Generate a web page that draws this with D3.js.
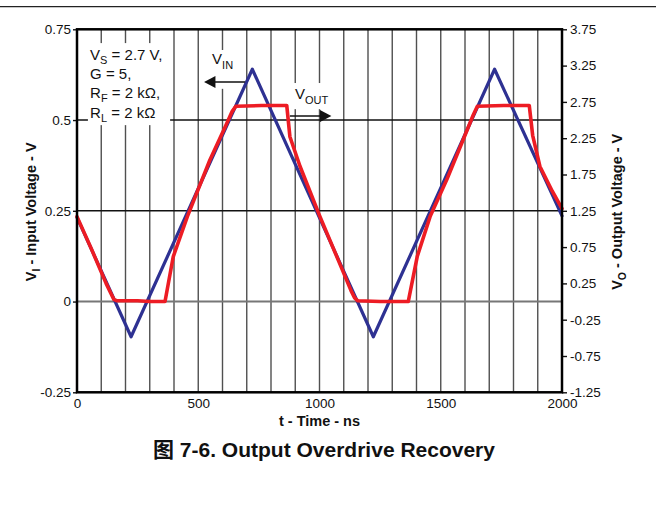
<!DOCTYPE html>
<html><head><meta charset="utf-8">
<script src="https://cdn.jsdelivr.net/npm/d3@7"></script>
<style>
html,body{margin:0;padding:0;background:#fff;}
svg{display:block;font-family:"Liberation Sans",Arial,"Noto Sans CJK SC",sans-serif;}
</style></head>
<body><svg id="c" width="656" height="506"></svg>
<script>
// ---- data ----
const timeTicks = [0, 500, 1000, 1500, 2000];
const gridTimes = [100,200,300,400,500,600,700,800,900,1000,1100,1200,1300,1400,1500,1600,1700,1800,1900];
const leftTicks = [0.75, 0.5, 0.25, 0, -0.25];
const leftTickLabels = ["0.75", "0.5", "0.25", "0", "-0.25"];
const gridLevels = [0.5, 0.25, 0];
const rightTicks = [3.75, 3.25, 2.75, 2.25, 1.75, 1.25, 0.75, 0.25, -0.25, -0.75, -1.25];
const rightTickLabels = ["3.75","3.25","2.75","2.25","1.75","1.25","0.75","0.25","-0.25","-0.75","-1.25"];

// V_IN (input volts, left axis)
const vinTime = [0, 223, 723, 1222, 1722, 2000];
const vinVolt = [0.232, -0.097, 0.640, -0.097, 0.640, 0.236];

// V_OUT (output volts, right axis)
const voutTime = [0, 60, 120, 140, 152, 165, 250, 300, 363, 397, 455, 548, 617, 640, 655, 760, 865, 878, 920, 1002, 1080, 1130, 1145, 1158, 1250, 1366, 1403, 1456, 1525, 1600, 1634, 1651, 1760, 1865, 1879, 1909, 1960, 2000];
const voutVolt = [1.17, 0.72, 0.25, 0.11, 0.03, 0.01, 0.01, 0.0, 0.0, 0.62, 1.17, 1.95, 2.45, 2.62, 2.69, 2.70, 2.70, 2.27, 1.86, 1.17, 0.55, 0.15, 0.05, 0.01, 0.0, 0.0, 0.62, 1.17, 1.68, 2.29, 2.57, 2.69, 2.70, 2.70, 2.29, 1.86, 1.52, 1.28];

// ---- layout ----
const svg = d3.select("#c");
const L = 77, R = 562, T = 29.3, B = 392.3;
const x = d3.scaleLinear().domain([0, 2000]).range([L, R]);
const yL = d3.scaleLinear().domain([-0.25, 0.75]).range([B, T]);
const yR = d3.scaleLinear().domain([-1.25, 3.75]).range([B, T]);

// top rule
svg.append("line").attr("x1",0).attr("x2",656).attr("y1",6.7).attr("y2",6.7)
  .attr("stroke","#222").attr("stroke-width",1.2);

// grid
const g = svg.append("g");
g.selectAll("line.v").data(gridTimes).join("line")
  .attr("x1",d=>x(d)).attr("x2",d=>x(d)).attr("y1",T).attr("y2",B)
  .attr("stroke","#505050").attr("stroke-width",1.4);
g.selectAll("line.h").data(gridLevels).join("line")
  .attr("x1",L).attr("x2",R).attr("y1",d=>yL(d)).attr("y2",d=>yL(d))
  .attr("stroke",d=>d===0?"#777":"#111").attr("stroke-width",d=>d===0?2:1.4);

// left axis
const axL = d3.axisLeft(yL).tickValues(leftTicks).tickSize(4).tickPadding(2)
  .tickFormat((d,i)=>leftTickLabels[i]);
const gl = svg.append("g").attr("transform",`translate(${L},0)`).call(axL);
// right axis
const axR = d3.axisRight(yR).tickValues(rightTicks).tickSize(5).tickPadding(3)
  .tickFormat((d,i)=>rightTickLabels[i]);
const gr = svg.append("g").attr("transform",`translate(${R},0)`).call(axR);
// bottom axis
const axB = d3.axisBottom(x).tickValues(timeTicks).tickSize(0).tickPadding(6).tickFormat(d3.format("d"));
const gb = svg.append("g").attr("transform",`translate(0,${B})`).call(axB);
[gl,gr,gb].forEach(a=>{
  a.select(".domain").remove();
  a.selectAll("text").attr("font-size","13.5px").attr("fill","#111")
    .attr("font-family",'"Liberation Sans",Arial,sans-serif');
  a.selectAll("line").attr("stroke","#111").attr("stroke-width",1.4);
});

// annotation boxes (white, hide grid)
const ann = svg.append("g");
ann.append("rect").attr("x",x(45)).attr("y",yL(0.712)).attr("width",x(384)-x(45)).attr("height",yL(0.486)-yL(0.712)).attr("fill","#fff");
ann.append("rect").attr("x",x(534)).attr("y",yL(0.693)).attr("width",x(670)-x(534)).attr("height",yL(0.586)-yL(0.693)).attr("fill","#fff");
ann.append("rect").attr("x",x(880)).attr("y",yL(0.602)).attr("width",x(1060)-x(880)).attr("height",yL(0.530)-yL(0.602)).attr("fill","#fff");

// curves
const lineIn = d3.line().x((d,i)=>x(vinTime[i])).y((d,i)=>yL(vinVolt[i]));
const lineOut = d3.line().x((d,i)=>x(voutTime[i])).y((d,i)=>yR(voutVolt[i]));
svg.append("path").attr("d",lineIn(vinTime)).attr("fill","none")
  .attr("stroke","#2e3192").attr("stroke-width",3.2).attr("stroke-linejoin","round").attr("stroke-linecap","round");
svg.append("path").attr("d",lineOut(voutTime)).attr("fill","none")
  .attr("stroke","#ed1c24").attr("stroke-width",3.6).attr("stroke-linejoin","round").attr("stroke-linecap","round");

// frame
svg.append("rect").attr("x",L).attr("y",T).attr("width",R-L).attr("height",B-T)
  .attr("fill","none").attr("stroke","#000").attr("stroke-width",2.5);

// condition text
const cond = [
  {main:"V", sub:"S", rest:" = 2.7 V,", v:0.665},
  {main:"G = 5,", sub:"", rest:"", v:0.613},
  {main:"R", sub:"F", rest:" = 2 kΩ,", v:0.561},
  {main:"R", sub:"L", rest:" = 2 kΩ", v:0.506}
];
cond.forEach(c=>{
  const t = svg.append("text").attr("x",x(54)).attr("y",yL(c.v)).attr("font-size","15px").attr("fill","#111");
  t.append("tspan").text(c.main);
  if(c.sub){
    t.append("tspan").attr("font-size","11px").attr("dy",4).text(c.sub);
    t.append("tspan").attr("dy",-4).text(c.rest);
  }
});

// V_IN label + arrow
const tin = svg.append("text").attr("x",x(557)).attr("y",yL(0.654)).attr("font-size","15px").attr("fill","#111");
tin.append("tspan").text("V");
tin.append("tspan").attr("font-size","11px").attr("dy",5).text("IN");
svg.append("line").attr("x1",x(693)).attr("x2",x(560)).attr("y1",yL(0.605)).attr("y2",yL(0.605)).attr("stroke","#111").attr("stroke-width",1.4);
svg.append("path").attr("d",`M${x(524)},${yL(0.605)} L${x(571)},${yL(0.605)-6} L${x(571)},${yL(0.605)+6} Z`).attr("fill","#111");

// V_OUT label + arrow
const tout = svg.append("text").attr("x",x(899)).attr("y",yL(0.558)).attr("font-size","15px").attr("fill","#111");
tout.append("tspan").text("V");
tout.append("tspan").attr("font-size","11px").attr("dy",5).text("OUT");
svg.append("line").attr("x1",x(878)).attr("x2",x(1010)).attr("y1",yL(0.511)).attr("y2",yL(0.511)).attr("stroke","#111").attr("stroke-width",1.4);
svg.append("path").attr("d",`M${x(1049)},${yL(0.511)} L${x(1002)},${yL(0.511)-6} L${x(1002)},${yL(0.511)+6} Z`).attr("fill","#111");

// axis titles
svg.append("text").attr("x",(L+R)/2).attr("y",426).attr("text-anchor","middle")
  .attr("font-size","14.5px").attr("font-weight","bold").attr("fill","#111").text("t - Time - ns");

function rotTitle(cx, main, sub, rest){
  const t = svg.append("text").attr("transform",`translate(${cx},${(T+B)/2+1}) rotate(-90)`)
    .attr("text-anchor","middle").attr("font-size","14.5px").attr("font-weight","bold").attr("fill","#111");
  t.append("tspan").text(main);
  t.append("tspan").attr("font-size","10.5px").attr("dy",4).text(sub);
  t.append("tspan").attr("dy",-4).text(rest);
}
rotTitle(36, "V", "I", " - Input Voltage - V");
rotTitle(622, "V", "O", " - Output Voltage - V");

// caption
svg.append("text").attr("x",324).attr("y",457).attr("text-anchor","middle")
  .attr("font-size","21px").attr("font-weight","bold").attr("fill","#111")
  .text("图 7-6. Output Overdrive Recovery");
</script></body></html>
